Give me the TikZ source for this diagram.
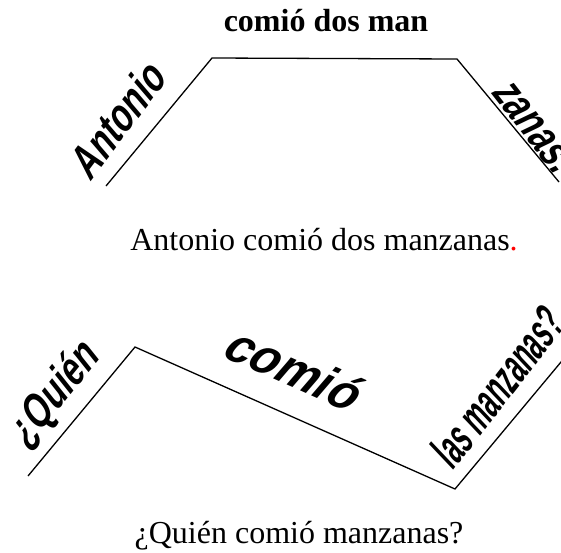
\documentclass[tikz,border=0pt]{standalone}
\usepackage{fontspec}
\setmainfont{Liberation Serif}
\newfontfamily\artefont{Liberation Sans Bold}[FakeStretch=0.74,FakeSlant=0.22]
\newfontfamily\anchafont{Liberation Sans Bold}[FakeStretch=0.95,FakeSlant=0.3]
\newfontfamily\estrechafont{Liberation Sans Bold}[FakeStretch=0.54,FakeSlant=0.15]
\usetikzlibrary{calc,positioning}

\begin{document}
\begin{tikzpicture}[x=1pt, y=-1pt, line width=1.3pt]
  % Definición de colores
  \definecolor{puntorojo}{RGB}{255, 0, 0} % Punto final en rojo

  \useasboundingbox (0,0) rectangle (561,552);

  % Coordenadas de la primera línea (trapecio)
  \coordinate (A1) at (106,186);
  \coordinate (A2) at (212,58);
  \coordinate (A3) at (457,59);
  \coordinate (A4) at (559,182);

  % Coordenadas de la segunda línea (zigzag)
  \coordinate (B1) at (28,476);
  \coordinate (B2) at (135,347);
  \coordinate (B3) at (455,489);
  \coordinate (B4) at (566,356);

  % --- Estilos ---
  \tikzset{palabra/.style={font=\artefont\fontsize{46}{46}\selectfont, inner sep=0pt},
           ancha/.style={font=\anchafont\fontsize{50}{50}\selectfont, inner sep=0pt},
           estrecha/.style={font=\estrechafont\fontsize{48}{48}\selectfont, inner sep=0pt},
           frase/.style={font=\fontsize{32}{38}\selectfont, anchor=base, inner sep=0pt}}

  % --- Líneas ---
  \draw (A1) -- (A2) -- (A3) -- (A4);
  \draw (B1) -- (B2) -- (B3) -- (B4);

  % --- Primera oración ---
  \node[palabra, rotate=53] (antonio) at (116,121) {Antonio};
  \node[frase, font=\bfseries\fontsize{32}{38}\selectfont] (comio1) at (326,31) {comió dos man};
  \node[palabra, rotate=-52] (zanas) at (532,126) {zanas.};
  \node[frase] (oracion1) at (324,250) {Antonio comió dos manzanas\textcolor{puntorojo}{.}};

  % --- Segunda oración ---
  \node[palabra, rotate=51] (quien) at (54,396) {¿Quién};
  \node[ancha, rotate=-24] (comio2) at (291,367) {comió};
  \node[estrecha, rotate=52] (manzanas) at (496,388) {las manzanas?};
  \node[frase] (oracion2) at (299,543) {¿Quién comió manzanas?};

\end{tikzpicture}
\end{document}
